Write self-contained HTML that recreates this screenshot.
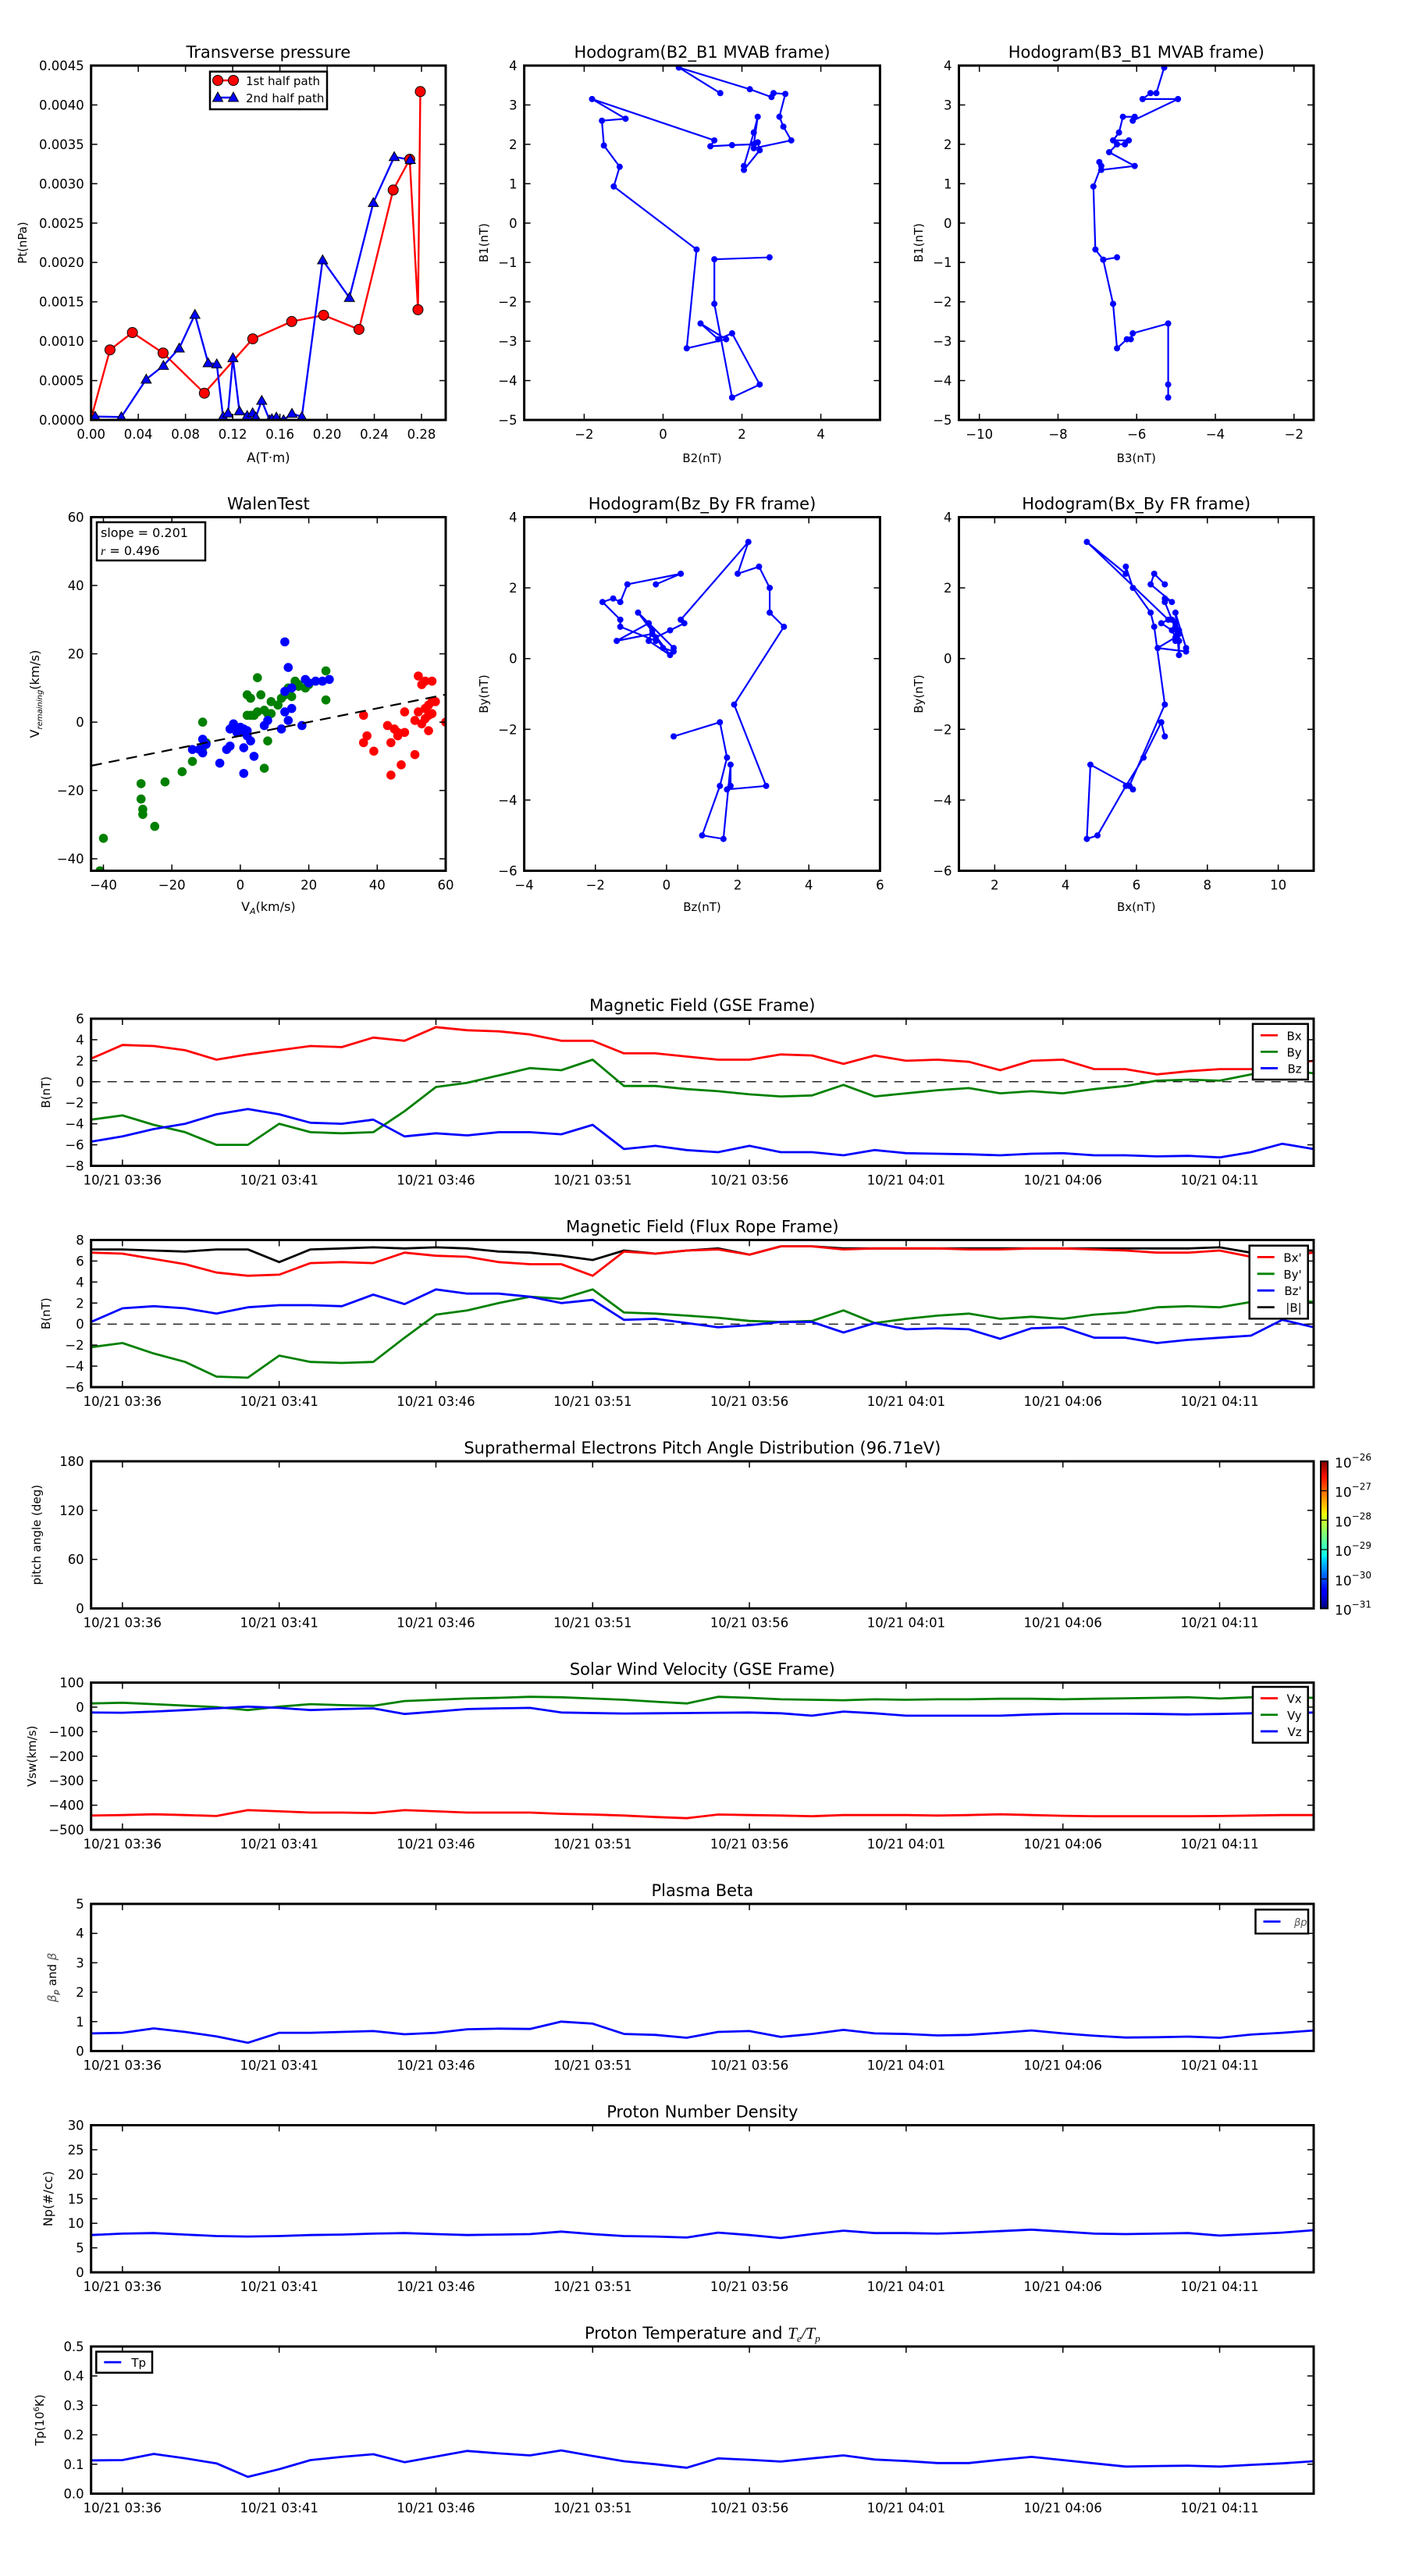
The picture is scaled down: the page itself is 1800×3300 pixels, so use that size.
<!DOCTYPE html>
<html><head><meta charset="utf-8"><title>Flux rope analysis</title>
<style>
html,body{margin:0;padding:0;background:#fff;}
svg{display:block;font-family:"DejaVu Sans","Liberation Sans",sans-serif;}
</style></head>
<body>
<svg id="fig" xmlns="http://www.w3.org/2000/svg" width="1800" height="3300" viewBox="0 0 1800 3300">
<defs>
<linearGradient id="jet" x1="0" y1="1" x2="0" y2="0">
<stop offset="0" stop-color="#00007f"/><stop offset="0.11" stop-color="#0000ff"/><stop offset="0.125" stop-color="#0000ff"/>
<stop offset="0.34" stop-color="#00dcff"/><stop offset="0.36" stop-color="#0dffeb"/><stop offset="0.5" stop-color="#7dff7a"/>
<stop offset="0.64" stop-color="#eeff09"/><stop offset="0.66" stop-color="#ffe600"/><stop offset="0.89" stop-color="#ff1300"/>
<stop offset="1" stop-color="#7f0000"/></linearGradient>
</defs>
<rect width="1800" height="3300" fill="#fff"/>
</svg>
<script>
// ---------------- DATA ----------------
const tMin = [0,1,2,3,4,5,6,7,8,9,10,11,12,13,14,15,16,17,18,19,20,21,22,23,24,25,26,27,28,29,30,31,32,33,34,35,36,37,38,39];
const timeTickMin = [1,6,11,16,21,26,31,36];
const timeTickLabels = ['10/21 03:36','10/21 03:41','10/21 03:46','10/21 03:51','10/21 03:56','10/21 04:01','10/21 04:06','10/21 04:11'];

const gseBx = [2.2,3.5,3.4,3.0,2.1,2.6,3.0,3.4,3.3,4.2,3.9,5.2,4.9,4.8,4.5,3.9,3.9,2.7,2.7,2.4,2.1,2.1,2.6,2.5,1.7,2.5,2.0,2.1,1.9,1.1,2.0,2.1,1.2,1.2,0.7,1.0,1.2,1.2,1.6,2.0];
const gseBy = [-3.6,-3.2,-4.1,-4.8,-6.0,-6.0,-4.0,-4.8,-4.9,-4.8,-2.8,-0.5,-0.1,0.6,1.3,1.1,2.1,-0.4,-0.4,-0.7,-0.9,-1.2,-1.4,-1.3,-0.3,-1.4,-1.1,-0.8,-0.6,-1.1,-0.9,-1.1,-0.7,-0.4,0.1,0.2,0.1,0.7,1.2,0.8];
const gseBz = [-5.7,-5.2,-4.5,-4.0,-3.1,-2.6,-3.1,-3.9,-4.0,-3.6,-5.2,-4.9,-5.1,-4.8,-4.8,-5.0,-4.1,-6.4,-6.1,-6.5,-6.7,-6.1,-6.7,-6.7,-7.0,-6.5,-6.8,-6.85,-6.9,-7.0,-6.85,-6.8,-7.0,-7.0,-7.1,-7.05,-7.2,-6.7,-5.9,-6.4];

const frBx = [6.8,6.7,6.2,5.7,4.9,4.6,4.7,5.8,5.9,5.8,6.8,6.5,6.4,5.9,5.7,5.7,4.6,6.9,6.7,7.0,7.1,6.6,7.4,7.4,7.1,7.2,7.2,7.2,7.1,7.1,7.2,7.2,7.1,7.0,6.8,6.8,7.0,6.4,6.5,6.8];
const frBy = [-2.2,-1.8,-2.8,-3.6,-5.0,-5.1,-3.0,-3.6,-3.7,-3.6,-1.3,0.9,1.3,2.0,2.6,2.4,3.3,1.1,1.0,0.8,0.6,0.3,0.2,0.3,1.3,0.1,0.5,0.8,1.0,0.5,0.7,0.5,0.9,1.1,1.6,1.7,1.6,2.1,2.4,2.1];
const frBz = [0.2,1.5,1.7,1.5,1.0,1.6,1.8,1.8,1.7,2.8,1.9,3.3,2.9,2.9,2.6,2.0,2.3,0.4,0.5,0.1,-0.3,-0.1,0.2,0.2,-0.8,0.1,-0.5,-0.4,-0.5,-1.4,-0.4,-0.3,-1.3,-1.3,-1.8,-1.5,-1.3,-1.1,0.4,-0.3];
const frBt = [7.1,7.1,7.0,6.9,7.1,7.1,5.9,7.1,7.2,7.3,7.2,7.3,7.2,6.9,6.8,6.5,6.1,7.0,6.7,7.0,7.2,6.6,7.4,7.4,7.2,7.2,7.2,7.2,7.2,7.2,7.2,7.2,7.2,7.2,7.2,7.2,7.3,6.8,7.0,7.0];

const swVx = [-442,-440,-437,-440,-444,-420,-425,-430,-430,-432,-420,-425,-430,-430,-430,-435,-438,-442,-448,-453,-438,-440,-442,-445,-440,-440,-440,-442,-440,-437,-440,-443,-445,-445,-445,-445,-444,-442,-440,-440];
const swVy = [15,18,12,6,0,-12,2,12,8,5,25,30,35,38,42,40,35,30,22,15,42,38,32,30,28,32,30,32,32,34,34,32,34,36,38,40,35,40,40,38];
const swVz = [-22,-23,-18,-12,-5,2,-3,-12,-8,-5,-28,-18,-8,-5,-3,-22,-24,-26,-25,-24,-23,-22,-25,-35,-18,-25,-35,-35,-35,-35,-30,-27,-27,-27,-28,-30,-28,-25,-25,-22];

const betaP = [0.6,0.62,0.77,0.65,0.5,0.28,0.62,0.62,0.65,0.68,0.57,0.62,0.74,0.76,0.75,1.0,0.93,0.58,0.55,0.45,0.65,0.68,0.48,0.58,0.72,0.6,0.58,0.53,0.55,0.62,0.7,0.6,0.52,0.46,0.47,0.49,0.45,0.56,0.62,0.7];
const densNp = [7.6,7.9,8.0,7.7,7.4,7.3,7.4,7.6,7.7,7.9,8.0,7.8,7.6,7.7,7.8,8.3,7.8,7.4,7.3,7.1,8.1,7.6,7.0,7.8,8.5,8.0,8.0,7.9,8.1,8.4,8.7,8.3,7.9,7.8,7.9,8.0,7.5,7.8,8.1,8.6];
const tempTp = [0.113,0.114,0.135,0.12,0.103,0.057,0.083,0.114,0.125,0.134,0.107,0.126,0.145,0.137,0.13,0.147,0.128,0.11,0.1,0.088,0.12,0.115,0.109,0.12,0.13,0.116,0.111,0.104,0.104,0.115,0.125,0.114,0.103,0.092,0.094,0.095,0.092,0.098,0.103,0.11];

const pt1A = [0.0004,0.016,0.035,0.061,0.096,0.137,0.170,0.197,0.227,0.256,0.270,0.277,0.279];
const pt1P = [0.00004,0.00089,0.00111,0.00085,0.00034,0.00103,0.00125,0.00133,0.00115,0.00292,0.00331,0.0014,0.00417];
const pt2A = [0.0035,0.0256,0.0467,0.0613,0.0747,0.0880,0.0992,0.1065,0.1118,0.1160,0.1202,0.1257,0.1323,0.1369,0.1396,0.1446,0.1512,0.1532,0.1570,0.1631,0.1702,0.1786,0.1962,0.2189,0.2392,0.2569,0.2705];
const pt2P = [0.000044,0.000038,0.000516,0.00069,0.000911,0.001338,0.000724,0.00071,0.000044,0.000085,0.000788,0.000113,0.000055,0.000089,0.000034,0.000246,0.0,0.000014,0.000034,0.0,0.000082,0.000041,0.002031,0.001553,0.002758,0.003341,0.003304];
const ptTickVals = [0,0.0005,0.001,0.0015,0.002,0.0025,0.003,0.0035,0.004,0.0045];
const ptTickLabels = ['0.0000','0.0005','0.0010','0.0015','0.0020','0.0025','0.0030','0.0035','0.0040','0.0045'];
const aTickVals = [0,0.04,0.08,0.12,0.16,0.20,0.24,0.28];
const aTickLabels = ['0.00','0.04','0.08','0.12','0.16','0.20','0.24','0.28'];

const mvB2 = [1.45,0.4,2.2,2.75,2.8,3.1,2.95,3.05,3.25,2.3,2.4,2.45,2.05,2.05,2.3,2.4,2.3,1.75,1.2,1.3,-1.8,-0.95,-1.55,-1.5,-1.1,-1.25,0.85,0.6,1.6,0.95,1.4,1.75,2.45,1.75,1.3,1.3,2.7];
const mvB1 = [3.3,3.95,3.4,3.2,3.3,3.28,2.7,2.45,2.1,1.9,2.05,1.85,1.35,1.45,2.3,2.7,2.0,1.98,1.95,2.1,3.15,2.65,2.6,1.97,1.43,0.93,-0.67,-3.18,-2.95,-2.55,-2.95,-2.8,-4.1,-4.43,-2.05,-0.92,-0.87];
const mvB3 = [-5.3,-5.5,-5.65,-5.85,-4.95,-6.1,-6.05,-6.35,-6.45,-6.6,-6.2,-6.3,-6.5,-6.7,-6.05,-6.9,-6.95,-6.9,-7.1,-7.05,-6.85,-6.5,-6.85,-6.6,-6.5,-6.25,-6.15,-6.1,-5.2,-5.2,-5.2];
const mvB1b = [3.95,3.3,3.3,3.15,3.15,2.6,2.7,2.7,2.3,2.1,2.1,2.0,2.0,1.8,1.45,1.35,1.55,1.45,0.93,-0.67,-0.93,-0.87,-0.93,-2.05,-3.18,-2.95,-2.95,-2.8,-2.55,-4.1,-4.43];

const walenGx = [-40,-41,-29,-29,-28.5,-28.5,-25,-22,-17,-14,-11,-11,-10,2,3,4,2,5,5,6,7,8,8,9,9,11,12,13,14,15,16,16,17,17,19,20,25,25,7,3,4];
const walenGy = [-34,-43.5,-18,-22.5,-25.5,-27,-30.5,-17.5,-14.5,-11.5,-7.5,0,-6,8,7,2,2,13,3,8,3.5,2.5,-5.5,6,2.5,5,7,8,10,7.5,11,12,11,10.5,10,11,15,6.5,-13.5,2,2];
const walenBx = [-14,-12,-11,-11,-10,-6,-4,-3,-3,-2,-2,-1,0,0,1,1,1,2,2,3,4,7,8,12,13,13,14,15,15,13,18,19,20,22,24,26,14];
const walenBy = [-8,-8,-5,-9,-6.5,-12,-8,-7,-2,-0.5,-1.5,-3,-3,-1.5,-2,-15,-7.5,-2.5,-4,-5.5,-10,-1,0.5,-2,3,23.5,16,10,4,9,-1,12.5,11.5,12,12,12.5,0.5];
const walenRx = [36,36,37,39,43,44,44,45,46,46,47,48,48,51,51,52,52,53,53,54,54,54,55,55,56,56,56,57,60,55];
const walenRy = [2,-6,-4,-8.5,-1,-15.5,-6,-2,-3,-4,-12.5,-3,3,0.5,-9.5,3,13.5,11,-0.5,12,1,4,2,-2.5,6,12,2.5,6,0,5];
const walenSlope = [0.201];
const walenIntercept = [-4.0];

// ---------------- DRAWING HELPERS ----------------
const NS = 'http://www.w3.org/2000/svg';
const svg = document.getElementById('fig');
let clipId = 0;
function mk(tag, parent) { const e = document.createElementNS(NS, tag); parent.appendChild(e); return e; }
function set(e, o) { for (const k in o) e.setAttribute(k, o[k]); return e; }

function makeAxes(name, x0, y0, w, h, xlim, ylim) {
  const g = mk('g', svg);
  
  
  const id = 'clip' + (clipId++);
  const cp = mk('clipPath', g); cp.setAttribute('id', id);
  set(mk('rect', cp), {x: x0, y: y0, width: w, height: h});
  const plot = mk('g', g); plot.setAttribute('clip-path', 'url(#' + id + ')');
  
  
  const sx = v => x0 + (v - xlim[0]) / (xlim[1] - xlim[0]) * w;
  const sy = v => y0 + h - (v - ylim[0]) / (ylim[1] - ylim[0]) * h;
  return {g, plot, sx, sy, x0, y0, w, h};
}
function frame(ax) {
  const r = mk('rect', ax.g);
  set(r, {x: ax.x0, y: ax.y0, width: ax.w, height: ax.h, fill: 'none', stroke: '#000', 'stroke-width': 3});
  
  
}
function xTicks(ax, vals, labels, fs) {
  vals.forEach((v, i) => {
    const x = ax.sx(v);
    set(mk('line', ax.g), {x1: x, x2: x, y1: ax.y0 + ax.h, y2: ax.y0 + ax.h - 8, stroke: '#000', 'stroke-width': 1.5});
    set(mk('line', ax.g), {x1: x, x2: x, y1: ax.y0, y2: ax.y0 + 8, stroke: '#000', 'stroke-width': 1.5});
    const t = mk('text', ax.g);
    set(t, {x: x, y: ax.y0 + ax.h + 24, 'text-anchor': 'middle', 'font-size': fs || 16.5, fill: '#000'});
    t.textContent = labels[i];
    
    
  });
}
function yTicks(ax, vals, labels, fs) {
  vals.forEach((v, i) => {
    const y = ax.sy(v);
    set(mk('line', ax.g), {x1: ax.x0, x2: ax.x0 + 8, y1: y, y2: y, stroke: '#000', 'stroke-width': 1.5});
    set(mk('line', ax.g), {x1: ax.x0 + ax.w, x2: ax.x0 + ax.w - 8, y1: y, y2: y, stroke: '#000', 'stroke-width': 1.5});
    const t = mk('text', ax.g);
    set(t, {x: ax.x0 - 9, y: y + 6, 'text-anchor': 'end', 'font-size': fs || 16.5, fill: '#000'});
    t.textContent = labels[i];
    
    
  });
}
function title(ax, txt, fs) {
  const t = mk('text', ax.g);
  set(t, {x: ax.x0 + ax.w / 2, y: ax.y0 - 10, 'text-anchor': 'middle', 'font-size': fs || 21, fill: '#000'});
  t.textContent = txt;
  
  
  return t;
}
function yLabel(ax, txt, x, fs) {
  const cy = ax.y0 + ax.h / 2;
  const t = mk('text', ax.g);
  set(t, {x: x, y: cy, 'text-anchor': 'middle', 'font-size': fs || 16, fill: '#000', transform: 'rotate(-90 ' + x + ' ' + cy + ')'});
  t.textContent = txt;
  
  
  return t;
}
function xLabel(ax, txt, y, fs) {
  const t = mk('text', ax.g);
  set(t, {x: ax.x0 + ax.w / 2, y: y, 'text-anchor': 'middle', 'font-size': fs || 16.5, fill: '#000'});
  t.textContent = txt;
  
  
  return t;
}
function line(ax, xs, ys, color, width, name) {
  const d = xs.map((x, i) => (i ? 'L' : 'M') + ax.sx(x).toFixed(1) + ' ' + ax.sy(ys[i]).toFixed(1)).join(' ');
  const p = mk('path', ax.plot);
  set(p, {d: d, fill: 'none', stroke: color, 'stroke-width': width || 2.8, 'stroke-linejoin': 'round'});
  
  
  return p;
}
function dots(ax, xs, ys, color, r, name, edge) {
  xs.forEach((x, i) => {
    const c = mk('circle', ax.plot);
    set(c, {cx: ax.sx(x), cy: ax.sy(ys[i]), r: r, fill: color});
    if (edge) set(c, {stroke: '#000', 'stroke-width': 1});
    
    
  });
}
function tris(ax, xs, ys, color, s, name) {
  xs.forEach((x, i) => {
    const cx = ax.sx(x), cy = ax.sy(ys[i]);
    const p = mk('polygon', ax.plot);
    set(p, {points: cx + ',' + (cy - s) + ' ' + (cx - s) + ',' + (cy + s * 0.75) + ' ' + (cx + s) + ',' + (cy + s * 0.75), fill: color, stroke: '#000', 'stroke-width': 1});
    
    
  });
}
function hline(ax, v, dash) {
  const y = ax.sy(v);
  const l = mk('line', ax.plot);
  set(l, {x1: ax.x0, x2: ax.x0 + ax.w, y1: y, y2: y, stroke: '#000', 'stroke-width': 1.3, 'stroke-dasharray': dash || '12 9'});
  
  
}
function legend(ax, x, y, w, h, entries, fs, lineLen) {
  const g = mk('g', ax.g);
  
  
  set(mk('rect', g), {x: x, y: y, width: w, height: h, fill: '#fff', stroke: '#000', 'stroke-width': 2.5});
  const step = (h - 8) / entries.length;
  entries.forEach((e, i) => {
    const cy = y + 4 + step * (i + 0.5);
    const ent = mk('g', g);
    
    
    set(mk('line', ent), {x1: x + 10, x2: x + 10 + lineLen, y1: cy, y2: cy, stroke: e.color, 'stroke-width': 2.8});
    const t = mk('text', ent);
    set(t, {x: x + w - 8, y: cy + 6, 'text-anchor': 'end', 'font-size': fs, fill: '#000'});
    t.textContent = e.label;
  });
}

// ---------------- TOP ROW ----------------
const R1Y = 84, R1H = 454, R2Y = 662.5, R2H = 453;
const C1 = [116.7, 454.3], C2 = [671.6, 455.8], C3 = [1228.5, 454.5];

// Transverse pressure
{
  const ax = makeAxes('transverse-pressure-chart', C1[0], R1Y, C1[1], R1H, [0, 0.3005], [0, 0.0045]);
  line(ax, pt1A, pt1P, '#ff0000', 2.4, 'first-half-path-line');
  line(ax, pt2A, pt2P, '#0000ff', 2.4, 'second-half-path-line');
  dots(ax, pt1A, pt1P, '#ff0000', 6.5, 'first-half-point', true);
  tris(ax, pt2A, pt2P, '#0000ff', 6.5, 'second-half-point');
  frame(ax);
  xTicks(ax, aTickVals, aTickLabels);
  yTicks(ax, ptTickVals, ptTickLabels);
  title(ax, 'Transverse pressure');
  xLabel(ax, 'A(T·m)', 592);
  yLabel(ax, 'Pt(nPa)', 34, 15);
  const lg = mk('g', ax.g);
  
  
  set(mk('rect', lg), {x: 269, y: 91.7, width: 150, height: 48.3, fill: '#fff', stroke: '#000', 'stroke-width': 2.5});
  set(mk('line', lg), {x1: 279, x2: 299, y1: 103, y2: 103, stroke: '#ff0000', 'stroke-width': 2.4});
  set(mk('circle', lg), {cx: 279, cy: 103, r: 6.5, fill: '#ff0000', stroke: '#000'});
  set(mk('circle', lg), {cx: 299, cy: 103, r: 6.5, fill: '#ff0000', stroke: '#000'});
  set(mk('line', lg), {x1: 279, x2: 299, y1: 125, y2: 125, stroke: '#0000ff', 'stroke-width': 2.4});
  set(mk('polygon', lg), {points: '279,118 272.5,130 285.5,130', fill: '#0000ff', stroke: '#000'});
  set(mk('polygon', lg), {points: '299,118 292.5,130 305.5,130', fill: '#0000ff', stroke: '#000'});
  const t1 = mk('text', lg); set(t1, {x: 315, y: 109, 'font-size': 15}); t1.textContent = '1st half path';
  const t2 = mk('text', lg); set(t2, {x: 315, y: 131, 'font-size': 15}); t2.textContent = '2nd half path';
}
// Hodogram B2_B1
{
  const ax = makeAxes('hodogram-b2-b1-chart', C2[0], R1Y, C2[1], R1H, [-3.52, 5.5], [-5, 4]);
  line(ax, mvB2, mvB1, '#0000ff', 2.2, 'hodogram-path');
  dots(ax, mvB2, mvB1, '#0000ff', 4, 'hodogram-point');
  frame(ax);
  xTicks(ax, [-2, 0, 2, 4], ['\u22122', '0', '2', '4']);
  yTicks(ax, [-5, -4, -3, -2, -1, 0, 1, 2, 3, 4], ['\u22125', '\u22124', '\u22123', '\u22122', '\u22121', '0', '1', '2', '3', '4']);
  title(ax, 'Hodogram(B2_B1 MVAB frame)');
  xLabel(ax, 'B2(nT)', 592, 15);
  yLabel(ax, 'B1(nT)', 625, 15);
}
// Hodogram B3_B1
{
  const ax = makeAxes('hodogram-b3-b1-chart', C3[0], R1Y, C3[1], R1H, [-10.52, -1.5], [-5, 4]);
  line(ax, mvB3, mvB1b, '#0000ff', 2.2, 'hodogram-path');
  dots(ax, mvB3, mvB1b, '#0000ff', 4, 'hodogram-point');
  frame(ax);
  xTicks(ax, [-10, -8, -6, -4, -2], ['\u221210', '\u22128', '\u22126', '\u22124', '\u22122']);
  yTicks(ax, [-5, -4, -3, -2, -1, 0, 1, 2, 3, 4], ['\u22125', '\u22124', '\u22123', '\u22122', '\u22121', '0', '1', '2', '3', '4']);
  title(ax, 'Hodogram(B3_B1 MVAB frame)');
  xLabel(ax, 'B3(nT)', 592, 15);
  yLabel(ax, 'B1(nT)', 1182, 15);
}
// Walen test
{
  const xl = [-43.6, 60];
  const ax = makeAxes('walen-test-chart', C1[0], R2Y, C1[1], R2H, xl, [-43.5, 60]);
  dots(ax, walenGx, walenGy, '#008000', 5.8, 'walen-point-green');
  dots(ax, walenBx, walenBy, '#0000ff', 5.8, 'walen-point-blue');
  dots(ax, walenRx, walenRy, '#ff0000', 5.8, 'walen-point-red');
  line(ax, xl, xl.map(v => walenSlope[0] * v + walenIntercept[0]), '#000', 2.2, 'walen-fit-line').setAttribute('stroke-dasharray', '14 9');
  frame(ax);
  xTicks(ax, [-40, -20, 0, 20, 40, 60], ['\u221240', '\u221220', '0', '20', '40', '60']);
  yTicks(ax, [-40, -20, 0, 20, 40, 60], ['\u221240', '\u221220', '0', '20', '40', '60']);
  title(ax, 'WalenTest');
  const xt = xLabel(ax, '', 1167, 16);
  xt.innerHTML = 'V<tspan font-size="11" dy="4" font-style="italic">A</tspan><tspan dy="-4">(km/s)</tspan>';
  const yt = yLabel(ax, '', 50, 16);
  yt.innerHTML = 'V<tspan font-size="10" dy="4" font-style="italic">remaining</tspan><tspan dy="-4">(km/s)</tspan>';
  const bx = mk('g', ax.g);
  
  
  set(mk('rect', bx), {x: 124, y: 669, width: 139, height: 49, fill: '#fff', stroke: '#000', 'stroke-width': 2.5});
  const s1 = mk('text', bx); set(s1, {x: 129, y: 688, 'font-size': 16}); s1.textContent = 'slope = 0.201';
  const s2 = mk('text', bx); set(s2, {x: 129, y: 711, 'font-size': 16}); s2.innerHTML = '<tspan font-style="italic" font-family="Liberation Serif">r</tspan> = 0.496';
}
// Hodogram Bz_By (FR)
{
  const ax = makeAxes('hodogram-bz-by-chart', C2[0], R2Y, C2[1], R2H, [-4, 6], [-6, 4]);
  line(ax, frBz, frBy, '#0000ff', 2.2, 'hodogram-path');
  dots(ax, frBz, frBy, '#0000ff', 4, 'hodogram-point');
  frame(ax);
  xTicks(ax, [-4, -2, 0, 2, 4, 6], ['\u22124', '\u22122', '0', '2', '4', '6']);
  yTicks(ax, [-6, -4, -2, 0, 2, 4], ['\u22126', '\u22124', '\u22122', '0', '2', '4']);
  title(ax, 'Hodogram(Bz_By FR frame)');
  xLabel(ax, 'Bz(nT)', 1167, 15);
  yLabel(ax, 'By(nT)', 625, 15);
}
// Hodogram Bx_By (FR)
{
  const ax = makeAxes('hodogram-bx-by-chart', C3[0], R2Y, C3[1], R2H, [0.99, 11], [-6, 4]);
  line(ax, frBx, frBy, '#0000ff', 2.2, 'hodogram-path');
  dots(ax, frBx, frBy, '#0000ff', 4, 'hodogram-point');
  frame(ax);
  xTicks(ax, [2, 4, 6, 8, 10], ['2', '4', '6', '8', '10']);
  yTicks(ax, [-6, -4, -2, 0, 2, 4], ['\u22126', '\u22124', '\u22122', '0', '2', '4']);
  title(ax, 'Hodogram(Bx_By FR frame)');
  xLabel(ax, 'Bx(nT)', 1167, 15);
  yLabel(ax, 'By(nT)', 1182, 15);
}

// ---------------- TIME SERIES ----------------
const TX = 116.7, TW = 1566.3, TH = 188.5, TSTEP = 283.5, TTOP = 1305;
function timeAxes(name, i, ylim) {
  const ax = makeAxes(name, TX, TTOP + TSTEP * i, TW, TH, [0, 39], ylim);
  return ax;
}
function timeFinish(ax, yv, yl) {
  frame(ax);
  xTicks(ax, timeTickMin, timeTickLabels);
  yTicks(ax, yv, yl);
}
// GSE
{
  const ax = timeAxes('magnetic-field-gse-chart', 0, [-8, 6]);
  hline(ax, 0);
  line(ax, tMin, gseBx, '#ff0000', 2.8, 'bx-line');
  line(ax, tMin, gseBy, '#008000', 2.8, 'by-line');
  line(ax, tMin, gseBz, '#0000ff', 2.8, 'bz-line');
  timeFinish(ax, [-8, -6, -4, -2, 0, 2, 4, 6], ['\u22128', '\u22126', '\u22124', '\u22122', '0', '2', '4', '6']);
  title(ax, 'Magnetic Field (GSE Frame)');
  yLabel(ax, 'B(nT)', 64, 15);
  legend(ax, 1605, 1311.7, 70.7, 71.3, [{label: 'Bx', color: '#ff0000'}, {label: 'By', color: '#008000'}, {label: 'Bz', color: '#0000ff'}], 15, 22);
}
// Flux rope
{
  const ax = timeAxes('magnetic-field-flux-rope-chart', 1, [-6, 8]);
  hline(ax, 0);
  line(ax, tMin, frBt, '#000000', 2.8, 'btotal-line');
  line(ax, tMin, frBx, '#ff0000', 2.8, 'bx-prime-line');
  line(ax, tMin, frBy, '#008000', 2.8, 'by-prime-line');
  line(ax, tMin, frBz, '#0000ff', 2.8, 'bz-prime-line');
  timeFinish(ax, [-6, -4, -2, 0, 2, 4, 6, 8], ['\u22126', '\u22124', '\u22122', '0', '2', '4', '6', '8']);
  title(ax, 'Magnetic Field (Flux Rope Frame)');
  yLabel(ax, 'B(nT)', 64, 15);
  legend(ax, 1600.7, 1595.7, 75, 93.6, [{label: "Bx'", color: '#ff0000'}, {label: "By'", color: '#008000'}, {label: "Bz'", color: '#0000ff'}, {label: '|B|', color: '#000000'}], 15, 22);
}
// Pitch angle
{
  const ax = timeAxes('pitch-angle-distribution-chart', 2, [0, 180]);
  timeFinish(ax, [0, 60, 120, 180], ['0', '60', '120', '180']);
  title(ax, 'Suprathermal Electrons Pitch Angle Distribution (96.71eV)');
  yLabel(ax, 'pitch angle (deg)', 52, 15);
  const cb = mk('g', svg);
  
  
  const cy0 = 1872, ch = 188.5;
  set(mk('rect', cb), {x: 1692, y: cy0, width: 9, height: ch, fill: 'url(#jet)', stroke: '#000', 'stroke-width': 2});
  const cbVals = [-31, -30, -29, -28, -27, -26];
  cbVals.forEach((v, i) => {
    const y = cy0 + ch - (v + 31) / 5 * ch;
    set(mk('line', cb), {x1: 1692, x2: 1701, y1: y, y2: y, stroke: '#000', 'stroke-width': 1.2});
    const t = mk('text', cb);
    set(t, {x: 1710, y: y + 8, 'font-size': 17});
    t.innerHTML = '10<tspan font-size="12" dy="-9">' + '\u2212' + String(-v) + '</tspan>';
    
    
  });
}
// Solar wind
{
  const ax = timeAxes('solar-wind-velocity-chart', 3, [-500, 100]);
  line(ax, tMin, swVx, '#ff0000', 2.8, 'vx-line');
  line(ax, tMin, swVy, '#008000', 2.8, 'vy-line');
  line(ax, tMin, swVz, '#0000ff', 2.8, 'vz-line');
  timeFinish(ax, [-500, -400, -300, -200, -100, 0, 100], ['\u2212500', '\u2212400', '\u2212300', '\u2212200', '\u2212100', '0', '100']);
  title(ax, 'Solar Wind Velocity (GSE Frame)');
  yLabel(ax, 'Vsw(km/s)', 46, 15);
  legend(ax, 1605, 2161, 70.7, 71.5, [{label: 'Vx', color: '#ff0000'}, {label: 'Vy', color: '#008000'}, {label: 'Vz', color: '#0000ff'}], 15, 22);
}
// Beta
{
  const ax = timeAxes('plasma-beta-chart', 4, [0, 5]);
  line(ax, tMin, betaP, '#0000ff', 2.8, 'beta-p-line');
  timeFinish(ax, [0, 1, 2, 3, 4, 5], ['0', '1', '2', '3', '4', '5']);
  title(ax, 'Plasma Beta');
  const yl = yLabel(ax, '', 72, 15);
  yl.innerHTML = '<tspan font-style="italic" fill="#555">β</tspan><tspan font-size="10" dy="3" font-style="italic">p</tspan><tspan dy="-3"> and </tspan><tspan font-style="italic" fill="#555">β</tspan>';
  const lg = legend(ax, 1608.5, 2446.3, 67.5, 30.7, [{label: '', color: '#0000ff'}], 14, 22);
  const bt = mk('text', ax.g);
  set(bt, {x: 1658, y: 2467, 'font-size': 13, 'font-style': 'italic', fill: '#555'});
  bt.textContent = 'βp';
  
  
}
// Density
{
  const ax = timeAxes('proton-density-chart', 5, [0, 30]);
  line(ax, tMin, densNp, '#0000ff', 2.8, 'np-line');
  timeFinish(ax, [0, 5, 10, 15, 20, 25, 30], ['0', '5', '10', '15', '20', '25', '30']);
  title(ax, 'Proton Number Density');
  yLabel(ax, 'Np(#/cc)', 67, 16);
}
// Temperature
{
  const ax = timeAxes('proton-temperature-chart', 6, [0, 0.5]);
  line(ax, tMin, tempTp, '#0000ff', 2.8, 'tp-line');
  timeFinish(ax, [0, 0.1, 0.2, 0.3, 0.4, 0.5], ['0.0', '0.1', '0.2', '0.3', '0.4', '0.5']);
  const tt = title(ax, '');
  tt.innerHTML = 'Proton Temperature and <tspan font-family="Liberation Serif" font-style="italic">T</tspan><tspan font-family="Liberation Serif" font-style="italic" font-size="13" dy="4">e</tspan><tspan font-family="Liberation Serif" font-style="italic" dy="-4">/T</tspan><tspan font-family="Liberation Serif" font-style="italic" font-size="13" dy="4">p</tspan>';
  const yl = yLabel(ax, '', 56, 15);
  yl.innerHTML = 'Tp(10<tspan font-size="10" dy="-6">6</tspan><tspan dy="6">K)</tspan>';
  legend(ax, 123.3, 3012.6, 71.7, 27, [{label: 'Tp', color: '#0000ff'}], 15, 22);
}
</script>
</body></html>
